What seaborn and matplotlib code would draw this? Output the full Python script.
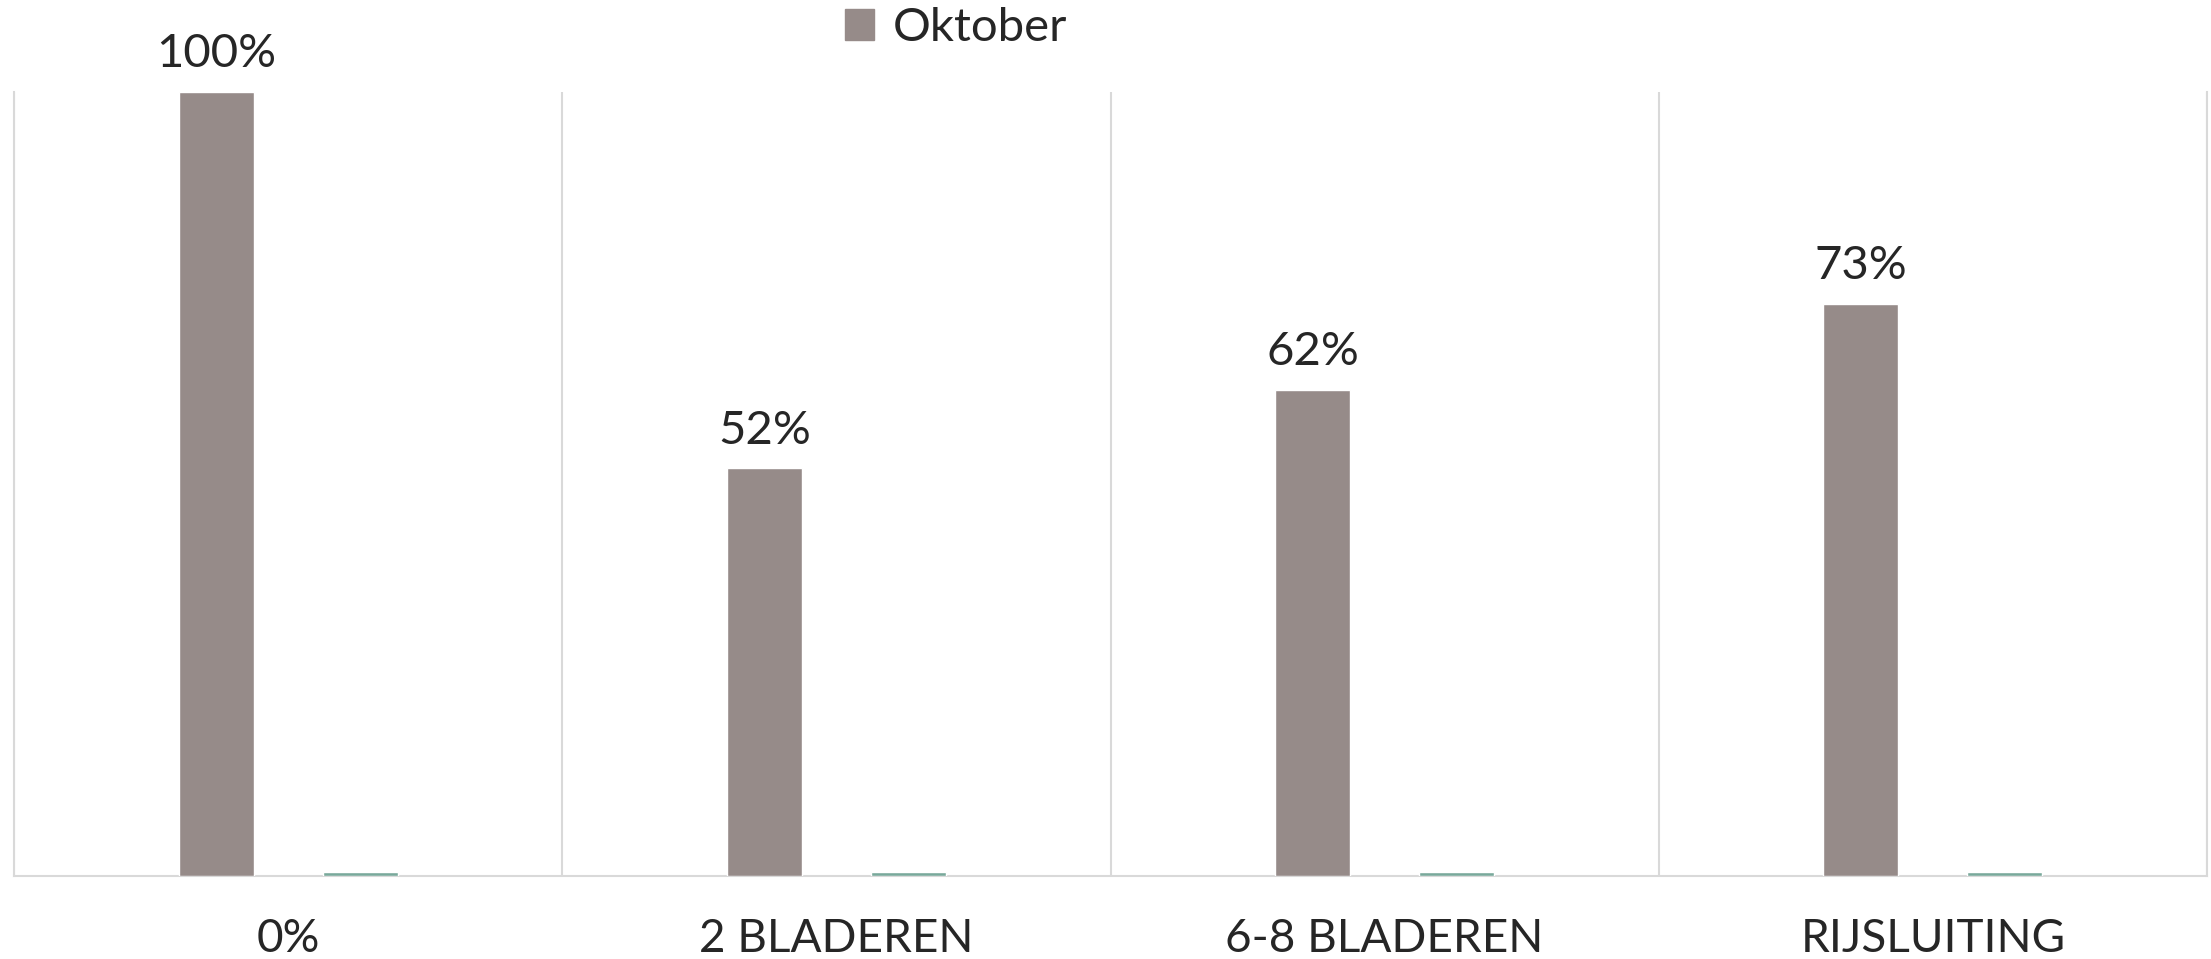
import pandas as pd
import numpy as np
import matplotlib.pyplot as plt
import seaborn as sns
from matplotlib.ticker import FixedLocator

# data
fases = ['0%', '2 BLADEREN', '6-8 BLADEREN', 'RIJSLUITING']
oktober = [1.00, 0.52, 0.62, 0.73]
tweede = [0.005, 0.005, 0.005, 0.005]
series = ['Oktober', ' ']

df = pd.DataFrame({
    'fase': fases * 2,
    'waarde': oktober + tweede,
    'serie': [series[0]] * 4 + [series[1]] * 4,
})

sns.set_style('white')
plt.rcParams['font.family'] = ['Lato', 'DejaVu Sans']

fig = plt.figure(figsize=(22.11, 9.59), dpi=100)
ax = fig.add_axes([14 / 2211, 1 - 876 / 959, (2207 - 14) / 2211, (876 - 92) / 959])

sns.barplot(data=df, x='fase', y='waarde', hue='serie',
            palette=['#968B89', '#79A99B'], width=0.525, gap=0.48,
            saturation=1, ax=ax, legend=False, zorder=3)

# labels boven de grijze balken
ax.bar_label(ax.containers[0], labels=[f'{v:.0%}' for v in oktober],
             padding=12, fontsize=34)

ax.set_xlim(-0.5, 3.5)
ax.set_ylim(0, 1)
ax.set_xlabel('')
ax.set_ylabel('')
ax.set_yticks([])
ax.tick_params(axis='x', length=0, labelsize=33, pad=30)

# verticale lijnen tussen categorieën
ax.xaxis.set_minor_locator(FixedLocator([-0.5, 0.5, 1.5, 2.5, 3.5]))
ax.grid(which='minor', axis='x', color='#D9D9D9', linewidth=1.5)
ax.tick_params(which='minor', length=0)
for s in ['left', 'right', 'bottom']:
    ax.spines[s].set_color('#D9D9D9')
    ax.spines[s].set_linewidth(1.5)
    ax.spines[s].set_zorder(1)
ax.spines['top'].set_visible(False)

# legenda
handle = plt.Rectangle((0, 0), 1, 1, color='#968B89')
fig.legend([handle], ['Oktober'], loc='center', bbox_to_anchor=(956 / 2211, 1 - 28 / 959),
           frameon=False, fontsize=34, handlelength=0.62, handleheight=0.62,
           handletextpad=0.4)

fig.savefig('out.png', dpi=100)
